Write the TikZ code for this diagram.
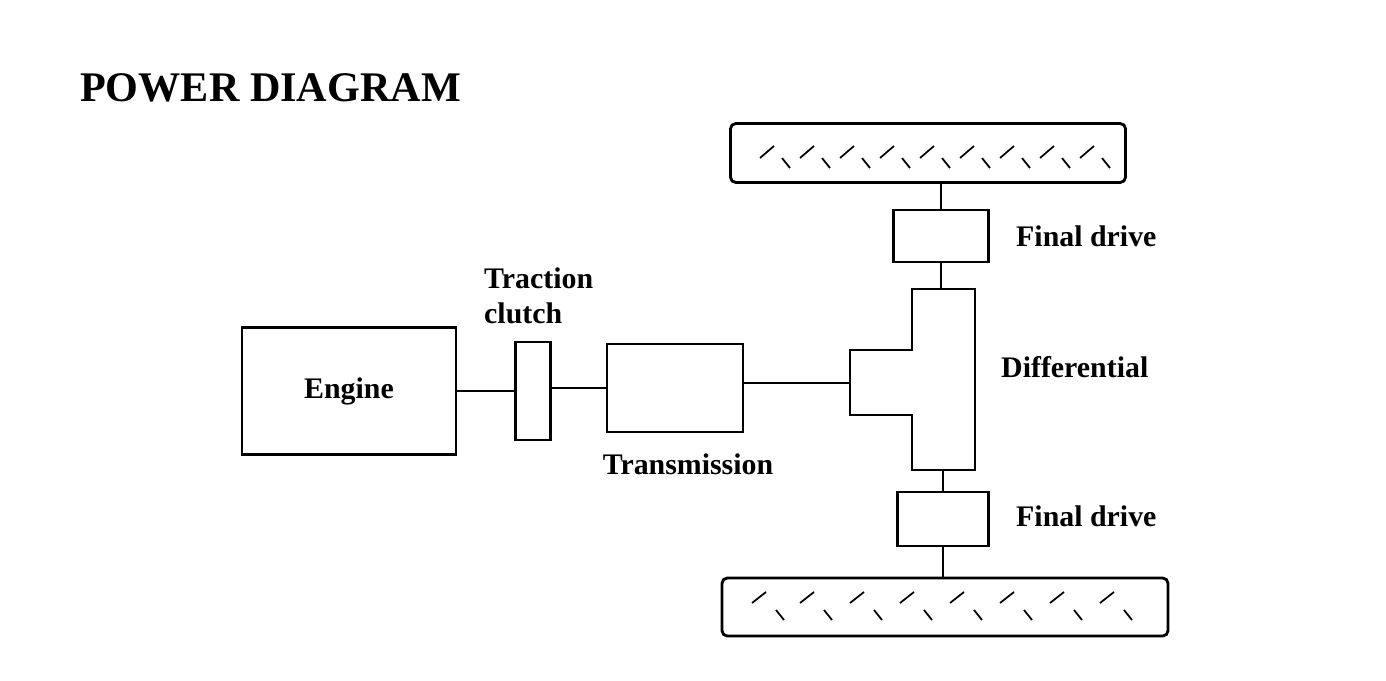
\documentclass[tikz,border=0pt]{standalone}
\usepackage{fontspec}
\setmainfont{Liberation Serif}
\begin{document}
\begin{tikzpicture}[x=0.02cm,y=-0.02cm,
  part/.style={draw,line width=1.6pt},
  shaft/.style={line width=1.6pt},
  lbl/.style={font=\fontsize{17}{20}\selectfont\bfseries},
  tread/.style={line width=1pt}]
\useasboundingbox (0,0) rectangle (1386,680);
\node[anchor=west,font=\fontsize{24}{29}\selectfont\bfseries] (title) at (74,88) {POWER DIAGRAM};
\node[part,minimum width=214*0.02cm,minimum height=127*0.02cm,inner sep=0,lbl] (eng) at (349,391) {Engine};
\node[part,minimum width=35*0.02cm,minimum height=98*0.02cm,inner sep=0] (clu) at (533,391) {};
\node[part,minimum width=136*0.02cm,minimum height=88*0.02cm,inner sep=0] (tr) at (675,388) {};
\node[lbl,anchor=north] (trl) at (688,448) {Transmission};
\node[lbl,anchor=west,align=left] (tcl) at (478,296) {Traction\\clutch};
\coordinate (ts) at (850,383);
\draw[shaft] (eng.east) -- (clu.west) (clu.east |- tr.west) -- (tr.west) (tr.east |- ts) -- (ts);
% differential T
\draw[part] (912,289) -- (975,289) -- (975,470) -- (912,470) -- (912,415) -- (850,415) -- (850,350) -- (912,350) -- cycle;
\node[lbl,anchor=west] (dl) at (995,367) {Differential};
\coordinate (dtop) at (941,289);
\coordinate (dbot) at (943,470);
\node[part,minimum width=95*0.02cm,minimum height=52*0.02cm,inner sep=0] (fd1) at (941,236) {};
\node[part,minimum width=91*0.02cm,minimum height=54*0.02cm,inner sep=0] (fd2) at (943,519) {};
\node[lbl,anchor=west] at (1010,236) {Final drive};
\node[lbl,anchor=west] at (1010,516) {Final drive};
\node[part,rounded corners=3pt,minimum width=395*0.02cm,minimum height=59*0.02cm,inner sep=0] (w1) at (928,153) {};
\node[part,rounded corners=3pt,minimum width=446*0.02cm,minimum height=58*0.02cm,inner sep=0] (w2) at (945,607) {};
\draw[shaft] (w1.south -| fd1) -- (fd1.north) (fd1.south) -- (dtop) (dbot) -- (fd2.north) (fd2.south) -- (w2.north -| fd2);
% tread
\foreach \x in {760,800,840,880,920,960,1000,1040,1080}{
  \draw[tread] (\x,158) -- (\x+14,146);
  \draw[tread] (\x+22,158) -- (\x+30,168);}
\foreach \x in {752,800,850,900,950,1000,1050,1100}{
  \draw[tread] (\x,603) -- (\x+14,592);
  \draw[tread] (\x+24,610) -- (\x+32,620);}
\end{tikzpicture}
\end{document}
